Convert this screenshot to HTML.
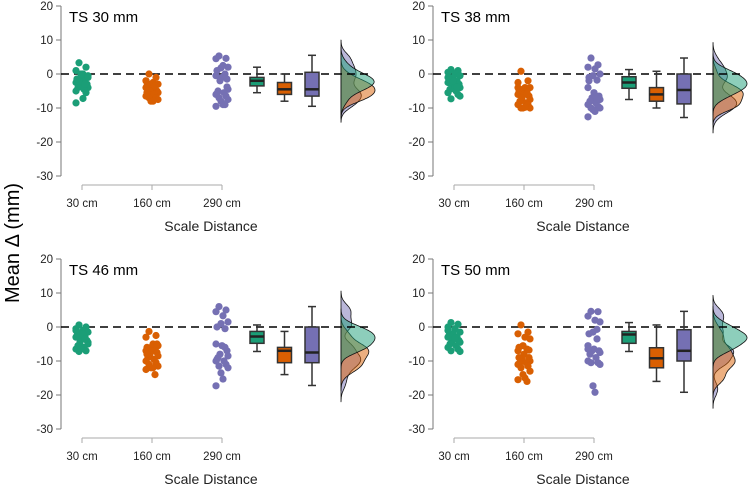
<!DOCTYPE html>
<html><head><meta charset="utf-8"><style>
html,body{margin:0;padding:0;background:#fff;}
svg{display:block;font-family:"Liberation Sans",Arial,sans-serif;}
</style></head><body>
<svg id="chart" width="750" height="486" viewBox="0 0 750 486" xmlns="http://www.w3.org/2000/svg">
<text transform="translate(19,243) rotate(-90)" text-anchor="middle" font-size="20" fill="#000">Mean Δ (mm)</text>
</svg>
<script>
const panelTitles = ["TS 30 mm","TS 38 mm","TS 46 mm","TS 50 mm"];
const categories = ["30 cm","160 cm","290 cm"];
const yTicks = [20,10,0,-10,-20,-30];
const greenPts = [
 [3.3,2,1,0,-0.5,-1,-1.5,-2,-2.5,-3,-3,-3.5,-4,-4,-4.5,-5,-5.5,-2,-1,0,-7.2,-8.5,-3,-1.5],
 [1.3,1,0.5,0,-0.5,-1,-1.5,-2,-2.5,-3,-3,-3.5,-4,-4.5,-5,-5.5,-6,-7.3,-6.5,-2,-4,-1,-3.8],
 [0.6,0,-0.5,-1,-1.5,-2,-2.5,-3,-3,-3.5,-4,-4.5,-5,-5.5,-6,-6.5,-7,-7.2,-4.5,-6.5,-2,-1,-3.5],
 [1.3,0.8,0,-0.5,-1.5,-2,-2.5,-3,-3,-3.5,-4,-4,-4.5,-5,-5.5,-6,-6.5,-7,-7.2,-2,-3.2,-1]];
const orangePts = [
 [0,-1,-2,-2.5,-3,-3,-3.5,-4,-4,-4.5,-5,-5,-5.5,-6,-6,-6.5,-7,-7,-7.5,-8,-8,-2,-3.5,-5.5],
 [0.8,-2,-2.5,-4,-4,-4.5,-5,-5.5,-6,-6,-6.5,-7,-7.5,-8,-8.5,-9,-9,-10,-10,-10,-9.8,-4,-5.8],
 [-1.3,-2.5,-3,-5,-5.5,-6,-6,-6.5,-7,-7,-7.5,-8,-8.5,-9,-9.5,-10,-10.5,-11,-11.5,-12,-12,-12.5,-14,-8,-5],
 [0.6,-1.5,-2,-3,-3.5,-5.5,-6,-6.5,-7,-8,-9,-9.5,-10,-10.5,-10.5,-11,-11.5,-12,-13,-14,-15,-15.5,-16,-9,-6.8]];
const purplePts = [
 [5.3,4.6,4.5,2.5,2,1.8,1,0,-0.5,-1,-1.5,-2,-4.5,-5,-5.5,-6,-6.5,-7,-7.5,-8,-9,-9.5,-9,-5.8,-3.8],
 [4.7,2.7,2,1.5,0,-0.5,-1,-1.8,-4,-5.5,-6.5,-7,-7.5,-8,-8.5,-9,-9.5,-10,-10,-10.5,-11,-12.6,-7.3,-2],
 [6,5,4.5,3.3,1.5,1,0,-0.5,-5,-5.5,-7,-8,-8.5,-9,-10,-10,-11,-11.5,-12,-13.5,-15.3,-17.3,-6,-9.5],
 [4.6,4.5,3.2,2,1.5,-1.5,-2,-3.5,-5.5,-6.5,-7,-7,-7.5,-8,-9,-10,-10.5,-10.5,-11,-17.3,-19.2,-6.5,-0.7]];
// box stats [min,q1,median,q3,max]
const greenBox = [[-5.5,-3.5,-2,-1,2],[-7.5,-4.2,-2.5,-0.8,1.3],[-7.2,-4.8,-2.8,-1.3,0.6],[-7.2,-4.8,-2.2,-1.3,1.3]];
const orangeBox = [[-8,-6,-4.5,-2.5,0],[-10,-8,-6,-4,0.8],[-14,-10.5,-7,-6,-1.3],[-16,-12,-9.2,-6.1,0.6]];
const purpleBox = [[-9.5,-6.5,-4.5,0.5,5.5],[-12.8,-8.8,-4.7,0,4.7],[-17.2,-10.5,-7.5,0,6],[-19.2,-10,-7,-0.8,4.6]];

const colors = ["#1b9e77","#d95f02","#7570b3"];
const jitter = [-3,4,-6,1,6,-1,-5,3,-6,0,5,-2,6,-4,2,-6,4,-3,6,-1,1,-6,3,-5,5];
const origins = [[61,6],[433,6],[61,259],[433,259]];
const svg = document.getElementById('chart');
const NS = "http://www.w3.org/2000/svg";
function mk(tag, attrs, parent){const e=document.createElementNS(NS,tag);for(const k in attrs)e.setAttribute(k,attrs[k]);(parent||svg).appendChild(e);return e;}

function kde(vals, y, bw){let s=0;for(const v of vals){const z=(y-v)/bw;s+=Math.exp(-0.5*z*z);}return s/(vals.length*bw*Math.sqrt(2*Math.PI));}

panelTitles.forEach((title,p)=>{
  const [ax,ay]=origins[p];
  const ys = v => ay + (20 - v)*3.4;
  const xs = i => ax + 21 + i*70;
  const g = mk('g',{});
  
  
  const yl = mk('line',{x1:ax,x2:ax,y1:ys(20),y2:ys(-30),stroke:'#777','stroke-width':1},g);
   
  yTicks.forEach(t=>{
    mk('line',{x1:ax-5,x2:ax,y1:ys(t),y2:ys(t),stroke:'#777'},g);
    const tx=mk('text',{x:ax-8,y:ys(t)+4,'text-anchor':'end','font-size':11.5,fill:'#222'},g);
    tx.textContent=t;
     
  });
  const bY = ys(-30)+9;
  const xl = mk('line',{x1:xs(0),x2:xs(2),y1:bY,y2:bY,stroke:'#aaa'},g);
   
  categories.forEach((c,i)=>{
    mk('line',{x1:xs(i),x2:xs(i),y1:bY,y2:bY+5,stroke:'#aaa'},g);
    const tx=mk('text',{x:xs(i),y:bY+22,'text-anchor':'middle','font-size':11.5,fill:'#222'},g);
    tx.textContent=c;
     
  });
  const xt=mk('text',{x:ax+150,y:bY+46,'text-anchor':'middle','font-size':14,fill:'#222'},g);
  xt.textContent='Scale Distance';
   
  const tt=mk('text',{x:ax+8,y:ay+16,'font-size':15,fill:'#000'},g);
  tt.textContent=title;
   

  const groups=[greenPts[p],orangePts[p],purplePts[p]];
  const boxes=[greenBox[p],orangeBox[p],purpleBox[p]];
  const base = ax+280, bw=1.6;
  let gmax=0;
  const dens = groups.map(vals=>{
    const lo=Math.min(...vals)-3*bw, hi=Math.max(...vals)+3*bw, pts=[];
    for(let y=lo;y<=hi;y+=0.25){const d=kde(vals,y,bw);pts.push([y,d]);if(d>gmax)gmax=d;}
    return pts;
  });
  [2,1,0].forEach(i=>{
    const pts=dens[i];
    let d=`M${base},${ys(pts[0][0])}`;
    pts.forEach(([y,v])=>{d+=` L${(base+v/gmax*34).toFixed(1)},${ys(y).toFixed(1)}`;});
    d+=` L${base},${ys(pts[pts.length-1][0])} Z`;
    const pa=mk('path',{d,fill:colors[i],'fill-opacity':0.5,stroke:'#111','stroke-width':0.8},g);
    
    
  });
  const zl=mk('line',{x1:ax,x2:ax+312,y1:ys(0),y2:ys(0),stroke:'#000','stroke-width':1.6,'stroke-dasharray':'8,5'},g);
   
  groups.forEach((vals,i)=>{
    vals.forEach((v,k)=>{
      const c=mk('circle',{cx:xs(i)+jitter[k%jitter.length],cy:ys(v),r:3.6,fill:colors[i]},g);
      
      
    });
  });
  boxes.forEach((b,i)=>{
    const cx=ax+196+i*27.5, w=14;
    mk('line',{x1:cx,x2:cx,y1:ys(b[0]),y2:ys(b[4]),stroke:'#333','stroke-width':1.5},g);
    mk('line',{x1:cx-4,x2:cx+4,y1:ys(b[0]),y2:ys(b[0]),stroke:'#333','stroke-width':1.5},g);
    mk('line',{x1:cx-4,x2:cx+4,y1:ys(b[4]),y2:ys(b[4]),stroke:'#333','stroke-width':1.5},g);
    const r=mk('rect',{x:cx-w/2,y:ys(b[3]),width:w,height:ys(b[1])-ys(b[3]),fill:colors[i],stroke:'#333','stroke-width':1.5},g);
    
    
    mk('line',{x1:cx-w/2,x2:cx+w/2,y1:ys(b[2]),y2:ys(b[2]),stroke:'#222','stroke-width':2.5},g);
  });
});
</script>
</body></html>
